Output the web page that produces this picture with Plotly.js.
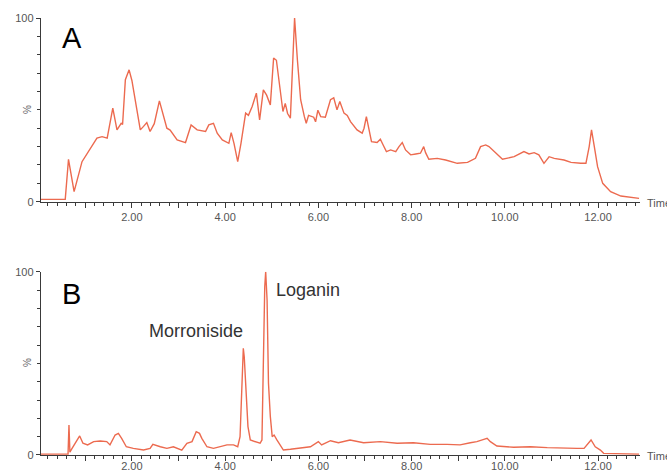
<!DOCTYPE html>
<html>
<head>
<meta charset="utf-8">
<script src="https://cdn.plot.ly/plotly-3.0.1.min.js"></script>
<style>html,body{margin:0;padding:0;background:#fff;}#chart{width:667px;height:473px;}</style>
</head>
<body>
<div id="chart"></div>
<script>
// Panel A chromatogram (time in min, relative intensity %)
var timeA = [0.05, 0.57, 0.64, 0.76, 0.93, 1.07, 1.25, 1.36, 1.47, 1.59,
  1.68, 1.77, 1.80, 1.86, 1.94, 2.00, 2.09, 2.18, 2.25, 2.32,
  2.39, 2.48, 2.59, 2.68, 2.75, 2.82, 2.97, 3.15, 3.27, 3.40,
  3.58, 3.65, 3.75, 3.83, 3.94, 4.08, 4.13, 4.19, 4.27, 4.34,
  4.44, 4.50, 4.58, 4.67, 4.72, 4.74, 4.82, 4.89, 4.97, 5.04,
  5.10, 5.17, 5.24, 5.29, 5.34, 5.40, 5.45, 5.49, 5.55, 5.62,
  5.70, 5.74, 5.79, 5.90, 5.94, 5.99, 6.05, 6.15, 6.26, 6.33,
  6.40, 6.46, 6.55, 6.62, 6.69, 6.83, 6.94, 6.98, 7.03, 7.08,
  7.14, 7.26, 7.33, 7.39, 7.46, 7.55, 7.66, 7.73, 7.80, 7.87,
  7.98, 8.09, 8.19, 8.26, 8.30, 8.37, 8.55, 8.73, 8.98, 9.20,
  9.37, 9.48, 9.59, 9.66, 9.77, 9.95, 10.20, 10.34, 10.41, 10.52,
  10.63, 10.73, 10.84, 10.95, 11.06, 11.27, 11.42, 11.63, 11.74, 11.81,
  11.86, 11.92, 11.99, 12.10, 12.27, 12.49, 12.70, 12.88];
var intensityA = [1.3, 1.3, 23.1, 5.5, 21.8, 27.3, 34.6, 35.4, 34.6, 50.9,
  39.1, 42.7, 42, 66.4, 71.8, 66, 51.8, 39.1, 41, 43.1,
  38.2, 42.5, 54.9, 46.3, 40, 39, 33.6, 32.2, 41.8, 39.1,
  38.2, 41.8, 42.7, 37.3, 33.6, 31.8, 37.6, 31.8, 21.8, 31.8,
  48.2, 47, 51.8, 59.1, 46.3, 44.5, 60.9, 58, 52.7, 78.2,
  77, 62.7, 49.1, 53.5, 48, 45.5, 73, 100, 77.3, 55.5,
  46.3, 42.7, 47, 46, 43.5, 49.8, 46.3, 46, 55.5, 56.5,
  50, 54.5, 48.2, 47, 43.6, 39.1, 37.3, 40, 46.3, 39.1,
  32.7, 32.2, 34, 30.9, 27.3, 28.2, 27.3, 30, 32.2, 28.2,
  25.5, 26, 26.4, 30, 26.7, 23.1, 23.6, 22.7, 20.9, 21.4,
  23.6, 30, 30.9, 30, 27.3, 23.1, 24.5, 26.4, 27.3, 26,
  26.7, 25.5, 20.9, 24.5, 23.6, 22.7, 21.4, 20.9, 20.9, 30,
  39.1, 30, 19.1, 10, 5.5, 3.1, 2.2, 1.8];

// Panel B chromatogram
var timeB = [0.05, 0.63, 0.65, 0.67, 0.71, 0.80, 0.88, 0.95, 1.05, 1.18,
  1.32, 1.46, 1.53, 1.64, 1.71, 1.78, 1.88, 2.03, 2.25, 2.39,
  2.45, 2.61, 2.75, 2.89, 3.07, 3.18, 3.29, 3.38, 3.45, 3.50,
  3.61, 3.75, 3.90, 4.04, 4.18, 4.27, 4.32, 4.36, 4.39, 4.41,
  4.45, 4.49, 4.54, 4.65, 4.75, 4.79, 4.81, 4.85, 4.87, 4.90,
  4.93, 4.97, 5.01, 5.05, 5.11, 5.18, 5.25, 5.40, 5.61, 5.83,
  6.00, 6.07, 6.26, 6.43, 6.68, 6.97, 7.33, 7.69, 8.04, 8.40,
  8.76, 9.04, 9.26, 9.40, 9.55, 9.62, 9.69, 9.83, 10.19, 10.55,
  10.91, 11.26, 11.55, 11.70, 11.76, 11.85, 11.94, 12.05, 12.12, 12.41,
  12.88];
var intensityB = [0.5, 0.5, 16.4, 1.5, 3.3, 7.3, 10.4, 6.4, 5.5, 7.3,
  7.6, 7.3, 5.5, 10.9, 11.8, 9.1, 4.5, 3.6, 2.7, 3.6,
  5.8, 4.5, 3.6, 4.5, 2.7, 6.4, 7.3, 12.7, 11.8, 9.1,
  4.5, 3.6, 4.5, 5.5, 5.5, 4.5, 10, 39.1, 58.2, 53.6,
  35.5, 15.5, 8.2, 7.3, 6.4, 8.2, 44.5, 91.8, 100, 84.6,
  39.1, 20.9, 10, 10.9, 8.2, 5.5, 2.7, 3.1, 3.6, 4.5,
  7.3, 5.5, 7.8, 6.7, 8.2, 6.7, 7.3, 6.4, 6.7, 5.8,
  5.8, 5.5, 6.7, 7.3, 8.5, 9.1, 7.3, 4.9, 4.2, 4.5,
  4.0, 3.6, 3.6, 3.6, 5.5, 8.2, 4.5, 2.7, 0.9, 0.9,
  0.5];

var xTickVals = [1, 2, 3, 4, 5, 6, 7, 8, 9, 10, 11, 12];
var xTickText = ['', '2.00', '', '4.00', '', '6.00', '', '8.00', '', '10.00', '', '12.00'];
var yTickVals = [0, 100];
var yTickText = ['0', '100'];
var peakLabels = ['Morroniside', 'Loganin'];
var panelLabels = ['A', 'B'];

var W = 667, H = 473, L = 41, R = 27, T = 18, B = 18;
var PW = W - L - R, PH = H - T - B;
function fx(px) { return (px - L) / PW; }
function fy(py) { return (H - B - py) / PH; }

var lineColor = '#ec6a4f';
var axisColor = '#3a3a3a';
var tickFont = {family: 'Liberation Sans, Arial, sans-serif', size: 11, color: '#555'};

function xAxis(anchor, standoff) {
  return {
    anchor: anchor, range: [0.05, 12.9], domain: [0, 1],
    showgrid: false, zeroline: false, showline: true, linecolor: axisColor, linewidth: 1.2,
    tickmode: 'array', tickvals: xTickVals, ticktext: xTickText,
    ticks: 'outside', ticklen: 5, tickcolor: axisColor, tickwidth: 1,
    ticklabelstandoff: standoff,
    minor: {tickmode: 'linear', tick0: 0, dtick: 0.2, ticks: 'outside', ticklen: 3, tickcolor: axisColor, tickwidth: 1},
    tickfont: tickFont, fixedrange: true
  };
}
function yAxis(anchor, dom) {
  return {
    anchor: anchor, range: [0, 100], domain: dom,
    showgrid: false, zeroline: false, showline: true, linecolor: axisColor, linewidth: 1.2,
    tickmode: 'array', tickvals: yTickVals, ticktext: yTickText,
    ticks: 'outside', ticklen: 4, tickcolor: axisColor, tickwidth: 1,
    minor: {tickmode: 'linear', tick0: 0, dtick: 10, ticks: 'outside', ticklen: 3, tickcolor: axisColor, tickwidth: 1},
    tickfont: tickFont, fixedrange: true
  };
}

var traces = [
  {x: timeA, y: intensityA, xaxis: 'x', yaxis: 'y', type: 'scatter', mode: 'lines',
   line: {color: lineColor, width: 1.4}, hoverinfo: 'skip'},
  {x: timeB, y: intensityB, xaxis: 'x2', yaxis: 'y2', type: 'scatter', mode: 'lines',
   line: {color: lineColor, width: 1.4}, hoverinfo: 'skip'}
];

var ann = [];
function addAnn(text, px, py, size, color, xanchor, extra) {
  var a = {xref: 'paper', yref: 'paper', x: fx(px), y: fy(py), text: text, showarrow: false,
    xanchor: xanchor || 'center', yanchor: 'middle',
    font: {family: 'Liberation Sans, Arial, sans-serif', size: size, color: color}};
  if (extra) for (var k in extra) a[k] = extra[k];
  ann.push(a);
}
addAnn(panelLabels[0], 72, 38, 29, '#000');
addAnn(panelLabels[1], 71, 294, 29, '#000');
addAnn(peakLabels[0], 196, 331, 18, '#333');
addAnn(peakLabels[1], 308, 290, 18, '#333');
addAnn('%', 27, 110, 10, '#666', 'center', {textangle: -90});
addAnn('%', 27, 363, 10, '#666', 'center', {textangle: -90});
addAnn('Time', 645, 203, 11, '#555', 'left');
addAnn('Time', 645, 456, 11, '#555', 'left');

var layout = {
  width: W, height: H, margin: {l: L, r: R, t: T, b: B, pad: 0},
  paper_bgcolor: '#fff', plot_bgcolor: '#fff', showlegend: false,
  xaxis: xAxis('y', 0), yaxis: yAxis('x', [0.5796, 1]),
  xaxis2: xAxis('y2', -4), yaxis2: yAxis('x2', [0, 0.4195]),
  annotations: ann
};

Plotly.newPlot('chart', traces, layout, {displayModeBar: false, staticPlot: true});
</script>
</body>
</html>
